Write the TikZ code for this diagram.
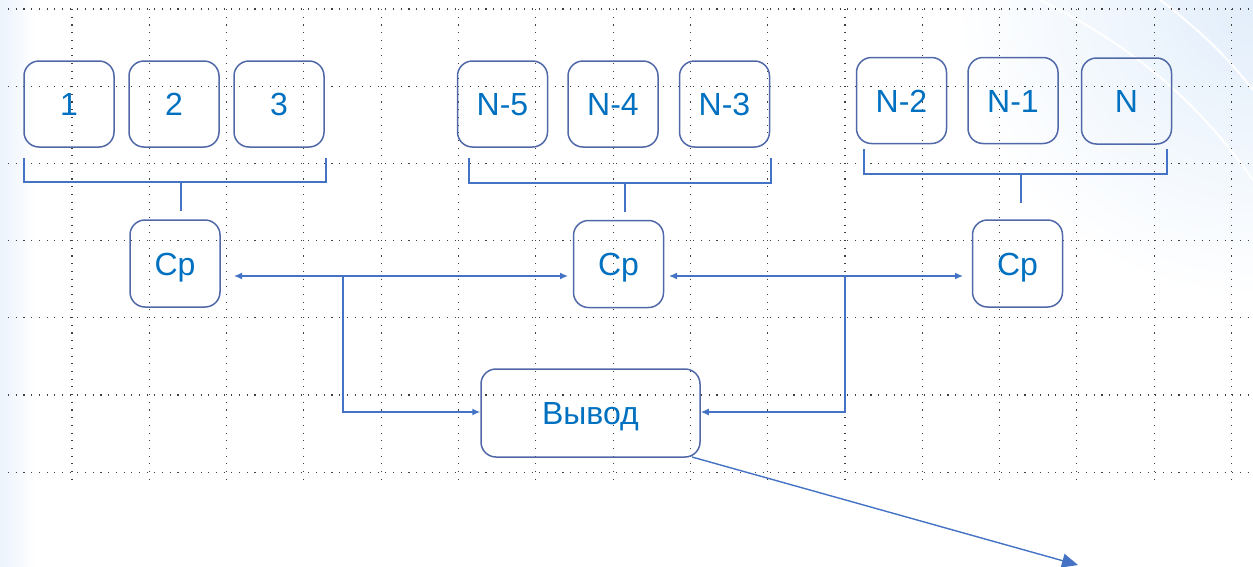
\documentclass[tikz,border=0pt]{standalone}
\usepackage{fontspec}
\setmainfont{Liberation Sans}
\usetikzlibrary{arrows.meta,calc}
\definecolor{boxc}{HTML}{5068A8}
\definecolor{textc}{HTML}{0070C0}
\definecolor{linec}{HTML}{4472C4}
\definecolor{bgblue}{HTML}{E2EEFB}
\begin{document}
\begin{tikzpicture}[x=1pt,y=-1pt,
  cell/.style={draw=boxc, line width=1.5pt, rounded corners=15pt, minimum width=90pt, minimum height=86pt, inner sep=0pt, text=textc, font=\fontsize{32}{36}\selectfont, text height=23pt, text depth=0pt},
  conn/.style={draw=linec, line width=1.4pt},
  gridline/.style={black!75, line width=1.1pt, dash pattern=on 1.1pt off 6.6pt},
  tip/.style={-{Latex[length=8pt,width=7pt]}},
  both/.style={{Latex[length=8pt,width=7pt]}-{Latex[length=8pt,width=7pt]}}
]
\useasboundingbox (0,0) rectangle (1253,566);
% background
\begin{scope}
\clip (0,0) rectangle (1253,566);
\shade[left color=bgblue!70, right color=white] (0,0) rectangle (35,566);
\shade[inner color=bgblue, outer color=white] (1253,0) circle (300);
\draw[white, line width=2pt] (1040,0) .. controls (1120,40) and (1190,90) .. (1253,180);
\draw[white, line width=2pt] (1160,0) .. controls (1200,30) and (1230,60) .. (1253,90);
\end{scope}
% grid
\foreach \k in {0,...,6} {
  \draw[gridline] (8,{9+77.2*\k}) -- (1250,{9+77.2*\k});
}
\foreach \k in {0,...,15} {
  \draw[gridline] ({72+77.3*\k},9) -- ({72+77.3*\k},482);
}
% top cells
\node[cell] (b1) at (69,104) {1};
\node[cell] (b2) at (174,104) {2};
\node[cell] (b3) at (279,104) {3};
\node[cell] (b4) at (502.5,104) {N-5};
\node[cell] (b5) at (613,104) {N-4};
\node[cell] (b6) at (724.5,104) {N-3};
\node[cell] (b7) at (901.5,100.5) {N-2};
\node[cell] (b8) at (1013,100.5) {N-1};
\node[cell] (b9) at (1126.5,101) {N};
% average cells
\node[cell, minimum height=87pt] (c1) at (175,263.5) {Ср};
\node[cell, minimum height=87pt] (c2) at (618.5,264) {Ср};
\node[cell, minimum height=87pt] (c3) at (1017.5,263.5) {Ср};
% output
\node[cell, minimum width=219pt, minimum height=88pt] (out) at (590.5,413) {Вывод};
% brackets
\coordinate (g1l) at (24,158); \coordinate (g1r) at (326,158);
\coordinate (g1m) at (181,182); \coordinate (g1s) at (181,211);
\draw[conn] (g1l) -- (g1l |- g1m) -- (g1r |- g1m) -- (g1r);
\draw[conn] (g1m) -- (g1s);
\coordinate (g2l) at (469,158); \coordinate (g2r) at (771,158);
\coordinate (g2m) at (625,183); \coordinate (g2s) at (625,212);
\draw[conn] (g2l) -- (g2l |- g2m) -- (g2r |- g2m) -- (g2r);
\draw[conn] (g2m) -- (g2s);
\coordinate (g3l) at (864,149); \coordinate (g3r) at (1167,149);
\coordinate (g3m) at (1021,174); \coordinate (g3s) at (1021,203);
\draw[conn] (g3l) -- (g3l |- g3m) -- (g3r |- g3m) -- (g3r);
\draw[conn] (g3m) -- (g3s);
% horizontal double arrows
\coordinate (a1l) at (234,276); \coordinate (a1r) at (568,276);
\coordinate (a2l) at (669,276); \coordinate (a2r) at (963,276);
\draw[conn, both] (a1l) -- (a1r);
\draw[conn, both] (a2l) -- (a2r);
% branches to output
\coordinate (j1) at (343,276); \coordinate (j2) at (845,276);
\draw[conn, tip] (j1) |- (out.west |- 0,412);
\draw[conn, tip] (j2) |- (out.east |- 0,412);
% outgoing arrow
\coordinate (oe) at (1078,565);
\draw[conn, -{Triangle[length=16pt,width=14pt]}] (692,457) -- (oe);
\end{tikzpicture}
\end{document}
